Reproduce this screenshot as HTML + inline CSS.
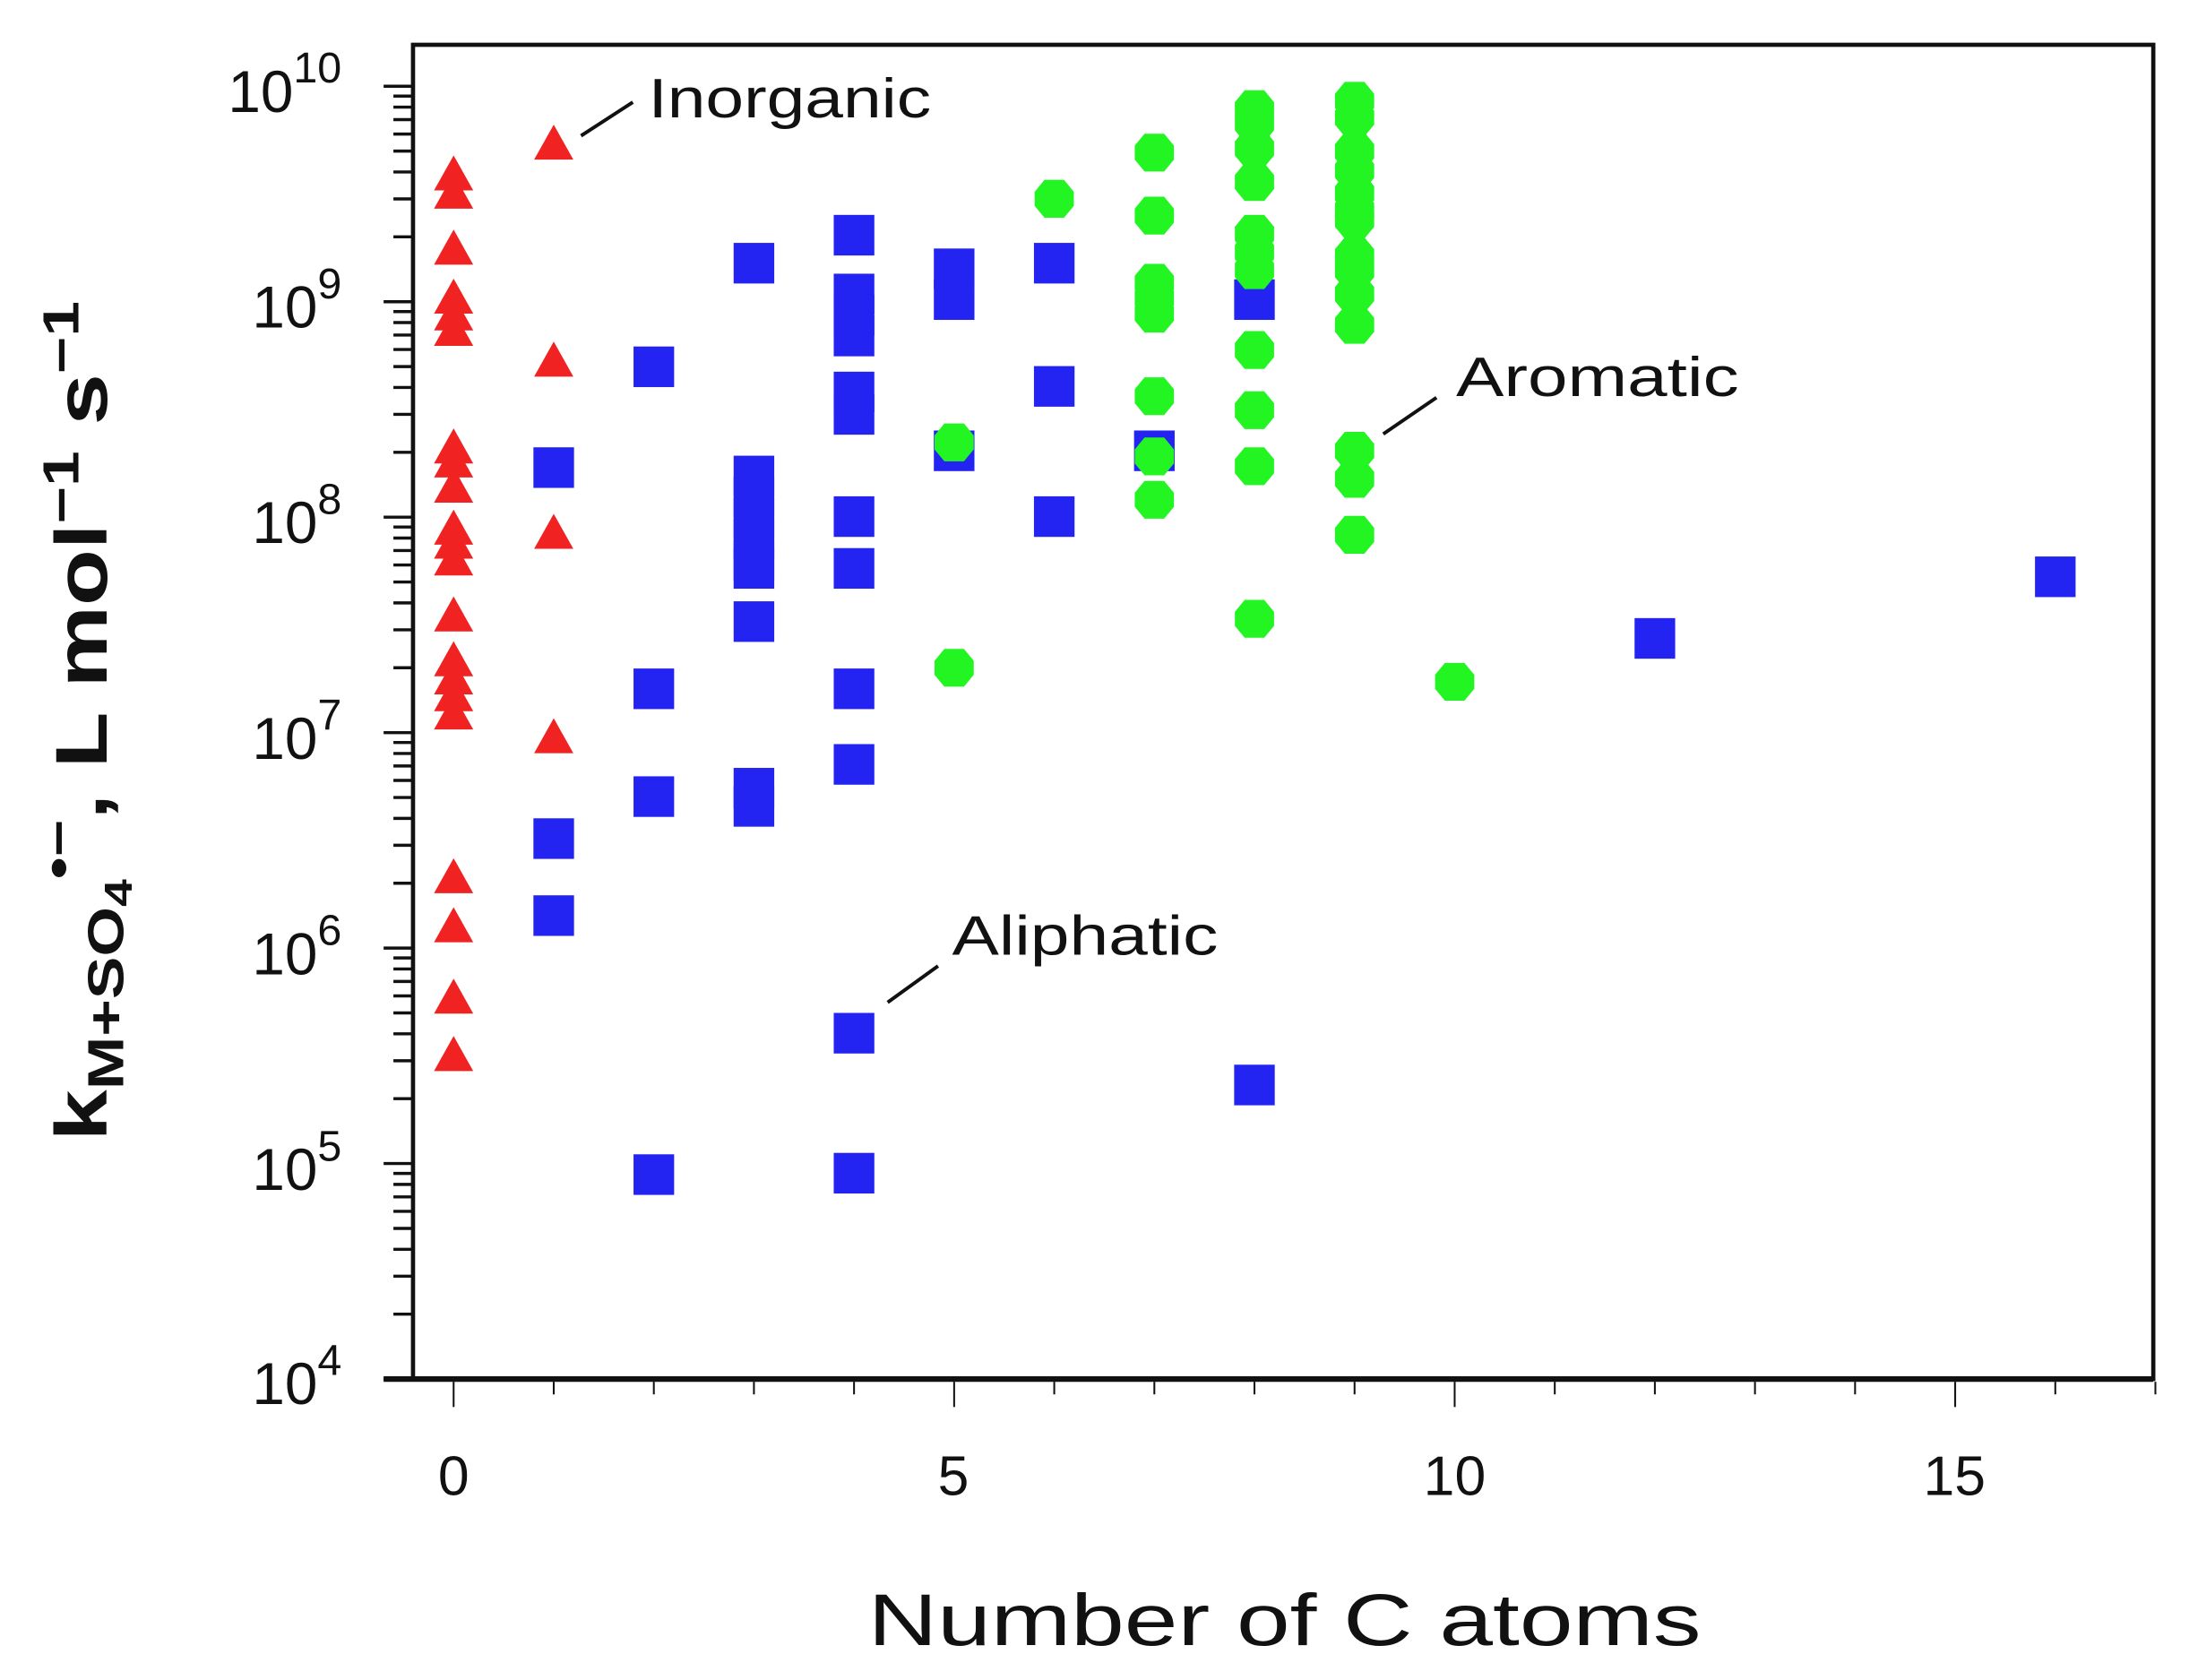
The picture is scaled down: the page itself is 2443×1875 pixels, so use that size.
<!DOCTYPE html>
<html><head><meta charset="utf-8"><style>
html,body{margin:0;padding:0;background:#fff;}
svg{display:block;}
text{font-family:"Liberation Sans",sans-serif;fill:#111;}
</style></head><body>
<svg width="2443" height="1875" viewBox="0 0 1563.5 1200" preserveAspectRatio="none" xmlns="http://www.w3.org/2000/svg">
<defs>
<rect id="sq" x="-14.5" y="-14.5" width="29" height="29" fill="#2323f2"/>
<polygon id="tr" points="0,-14 14,11 -14,11" fill="#f02222"/>
<polygon id="hx" points="-7,-13.5 7,-13.5 14,-5 14,5 7,13.5 -7,13.5 -14,5 -14,-5" fill="#22f522"/>
</defs>
<rect x="295" y="32" width="1243" height="953" fill="none" stroke="#111" stroke-width="3"/>
<line x1="274" y1="985" x2="1538" y2="985" stroke="#111" stroke-width="4"/>
<g id="yt" stroke="#111" stroke-width="2.2"></g>
<g id="xt" stroke="#111" stroke-width="1.3"></g>
<g font-size="42" text-anchor="end">
<text x="244" y="80">10<tspan font-size="31" dy="-21">10</tspan></text>
<text x="244" y="234">10<tspan font-size="31" dy="-21">9</tspan></text>
<text x="244" y="388">10<tspan font-size="31" dy="-21">8</tspan></text>
<text x="244" y="542">10<tspan font-size="31" dy="-21">7</tspan></text>
<text x="244" y="696">10<tspan font-size="31" dy="-21">6</tspan></text>
<text x="244" y="850">10<tspan font-size="31" dy="-21">5</tspan></text>
<text x="244" y="1003">10<tspan font-size="31" dy="-21">4</tspan></text>
</g>
<g font-size="40" text-anchor="middle">
<text x="324" y="1068">0</text><text x="681" y="1068">5</text><text x="1039" y="1068">10</text><text x="1396" y="1068">15</text>
</g>
<text x="620" y="1175" font-size="52" textLength="595" lengthAdjust="spacingAndGlyphs">Number  of  C  atoms</text>
<text transform="translate(76,815) rotate(-90)" font-size="52" font-weight="bold" textLength="600" lengthAdjust="spacingAndGlyphs">k<tspan font-size="36" dy="12">M+SO</tspan><tspan font-size="28" dy="6">4</tspan><tspan font-size="36" dy="-40">•−</tspan><tspan dy="22">,  L  mol</tspan><tspan font-size="36" dy="-20">−1</tspan><tspan dy="20">  s</tspan><tspan font-size="36" dy="-20">−1</tspan></text>
<g font-size="40">
<text x="463" y="84" textLength="202" lengthAdjust="spacingAndGlyphs">Inorganic</text>
<text x="1040" y="283" textLength="202" lengthAdjust="spacingAndGlyphs">Aromatic</text>
<text x="680" y="682" textLength="190" lengthAdjust="spacingAndGlyphs">Aliphatic</text>
</g>
<g stroke="#111" stroke-width="2.5">
<line x1="415" y1="97" x2="452" y2="73"/>
<line x1="988" y1="310" x2="1026" y2="284"/>
<line x1="634" y1="716" x2="670" y2="690"/>
</g>
<g id="pts"></g>
<script>
(function(){
var ns="http://www.w3.org/2000/svg";
function Y(v){return 985-(Math.log10(v)-4)*153.9;}
var yt=document.getElementById('yt');
for(var d=4;d<10;d++){for(var m=1;m<10;m++){var y=Y(m*Math.pow(10,d));var l=document.createElementNS(ns,'line');l.setAttribute('x1',m==1?274:281);l.setAttribute('x2',295);l.setAttribute('y1',y);l.setAttribute('y2',y);yt.appendChild(l);}}
var l=document.createElementNS(ns,'line');l.setAttribute('x1',274);l.setAttribute('x2',295);l.setAttribute('y1',Y(1e10));l.setAttribute('y2',Y(1e10));yt.appendChild(l);
var xt=document.getElementById('xt');
for(var i=0;i<=17;i++){var x=324+i*71.5;var l=document.createElementNS(ns,'line');l.setAttribute('x1',x);l.setAttribute('x2',x);l.setAttribute('y1',987);l.setAttribute('y2',i%5==0?1005:996);xt.appendChild(l);}
var P=document.getElementById('pts');
function put(id,x,ys){ys.forEach(function(y){var u=document.createElementNS(ns,'use');u.setAttribute('href','#'+id);u.setAttribute('x',x);u.setAttribute('y',y);P.appendChild(u);});}
function X(n){return 324+n*71.5;}
put('tr',X(0),[125,138,178,213,225,236,320,330,348,378,388,400,440,472,485,497,510,627,662,713,754]);
put('tr',X(1),[103,258,381,527]);
put('sq',X(1),[334,599,654]);
put('sq',X(2),[262,492,569,839]);
put('sq',X(3),[188,340,355,370,385,400,406,444,563,576]);
put('sq',X(4),[168,210,225,240,280,296,369,406,492,546,738,838]);
put('sq',X(5),[192,214,322]);
put('sq',X(6),[188,276,369]);
put('sq',X(7),[322]);
put('sq',X(8),[214,775]);
put('sq',X(12),[456]);
put('sq',X(16),[412]);
put('hx',X(5),[316,477]);
put('hx',X(6),[142]);
put('hx',X(7),[109,154,202,213,224,283,326,357]);
put('hx',X(8),[78,88,106,130,167,180,193,250,293,333,442]);
put('hx',X(9),[72,84,108,122,138,150,157,183,193,210,232,322,342,382]);
put('hx',X(10),[487]);
})();
</script>
</svg>
</body></html>
